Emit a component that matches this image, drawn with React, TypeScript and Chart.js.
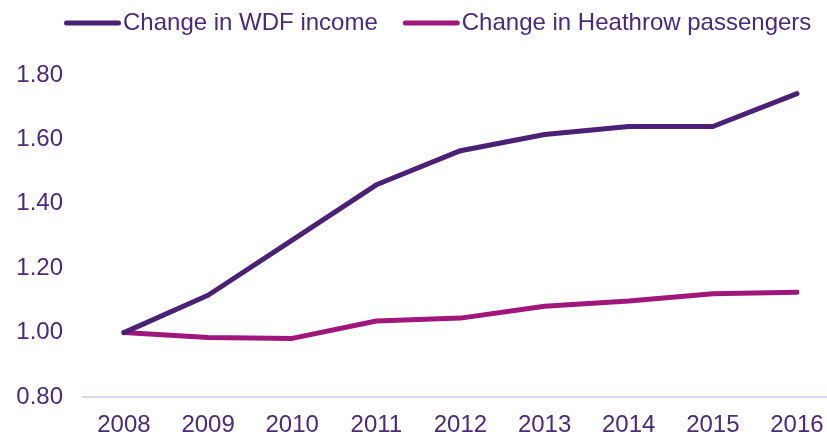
import React, { useEffect, useRef } from 'react';
import { Chart, registerables } from 'chart.js';

Chart.register(...registerables);

const years = [2008, 2009, 2010, 2011, 2012, 2013, 2014, 2015, 2016];
const wdfIncome = [1.0, 1.116, 1.287, 1.459, 1.565, 1.615, 1.64, 1.64, 1.742];
const heathrowPassengers = [1.0, 0.985, 0.982, 1.036, 1.045, 1.082, 1.098, 1.121, 1.125];
const seriesLabels = ['Change in WDF income', 'Change in Heathrow passengers'];
const seriesColors = ['#4a2174', '#a0177c'];
const yMin = 0.8;
const yMax = 1.8;
const yStep = 0.2;

const TEXT_COLOR = '#4b2a78';
const FONT_FAMILY = '"Liberation Sans", Arial, sans-serif';
const FONT_SIZE = 24;

const legendPlugin = {
  id: 'customLegend',
  afterDraw(chart: any) {
    const ctx = chart.ctx;
    ctx.save();
    ctx.font = `${FONT_SIZE}px ${FONT_FAMILY}`;
    ctx.textBaseline = 'middle';
    ctx.textAlign = 'left';
    const y = 23;
    let x = 64;
    chart.data.datasets.forEach((ds: any) => {
      ctx.strokeStyle = ds.borderColor;
      ctx.lineWidth = 5;
      ctx.lineCap = 'round';
      ctx.beginPath();
      ctx.moveTo(x + 2.5, y);
      ctx.lineTo(x + 54.5, y);
      ctx.stroke();
      ctx.fillStyle = TEXT_COLOR;
      ctx.fillText(ds.label, x + 59, y);
      x = x + 59 + ctx.measureText(ds.label).width + 25;
    });
    ctx.restore();
  },
};

export default function App() {
  const canvasRef = useRef<HTMLCanvasElement | null>(null);

  useEffect(() => {
    document.body.style.margin = '0';
    const canvas = canvasRef.current;
    if (!canvas) return;
    const chart = new Chart(canvas, {
      type: 'line',
      data: {
        datasets: [
          {
            label: seriesLabels[0],
            data: years.map((yr, i) => ({ x: yr, y: wdfIncome[i] })),
            borderColor: seriesColors[0],
            backgroundColor: seriesColors[0],
            borderWidth: 5,
            borderCapStyle: 'round',
            borderJoinStyle: 'round',
            pointRadius: 0,
            tension: 0,
          },
          {
            label: seriesLabels[1],
            data: years.map((yr, i) => ({ x: yr, y: heathrowPassengers[i] })),
            borderColor: seriesColors[1],
            backgroundColor: seriesColors[1],
            borderWidth: 5,
            borderCapStyle: 'round',
            borderJoinStyle: 'round',
            pointRadius: 0,
            tension: 0,
          },
        ],
      },
      options: {
        animation: false,
        responsive: false,
        maintainAspectRatio: false,
        layout: { padding: { top: 75, left: 0, right: 0, bottom: 0 } },
        plugins: {
          legend: { display: false },
          tooltip: { enabled: false },
        },
        scales: {
          x: {
            type: 'linear',
            min: 2007.513,
            max: 2016.357,
            grid: { display: false, drawTicks: false },
            border: { display: true, color: '#dcd3ee', width: 2 },
            ticks: {
              stepSize: 1,
              padding: 14,
              color: TEXT_COLOR,
              font: { family: FONT_FAMILY, size: FONT_SIZE },
              callback: (v: any) => String(v),
              maxRotation: 0,
              autoSkip: false,
            },
            afterBuildTicks: (scale: any) => {
              scale.ticks = years.map((yr) => ({ value: yr }));
            },
            afterFit: (scale: any) => {
              scale.height = 40;
              scale.paddingLeft = 0;
              scale.paddingRight = 0;
            },
          },
          y: {
            min: yMin,
            max: yMax,
            grid: { display: false, drawTicks: false },
            border: { display: false },
            ticks: {
              stepSize: yStep,
              padding: 20,
              color: TEXT_COLOR,
              font: { family: FONT_FAMILY, size: FONT_SIZE },
              callback: (v: any) => Number(v).toFixed(2),
            },
            afterFit: (scale: any) => {
              scale.width = 83;
              scale.paddingTop = 0;
              scale.paddingBottom = 0;
            },
          },
        },
      },
      plugins: [legendPlugin],
    } as any);
    return () => chart.destroy();
  }, []);

  return (
    <div style={{ width: 827, height: 437, background: '#fff' }}>
      <canvas ref={canvasRef} width={827} height={437} style={{ display: 'block' }} />
    </div>
  );
}
